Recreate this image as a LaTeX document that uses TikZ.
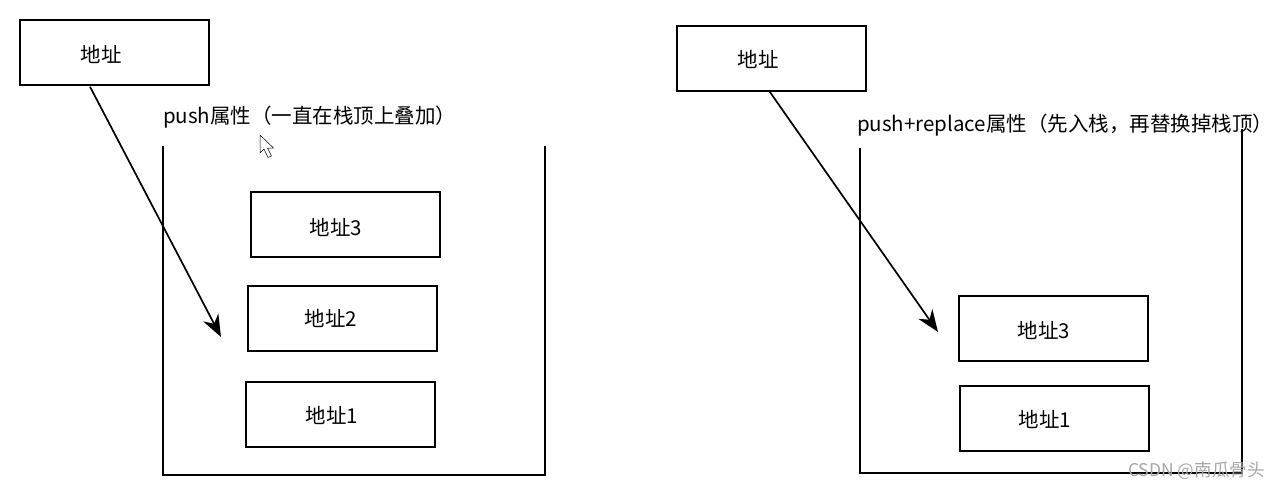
\documentclass[tikz,border=0pt]{standalone}
\usepackage{fontspec}
\setmainfont{Noto Sans CJK SC}
\usetikzlibrary{arrows.meta}
\tikzset{
  box/.style={draw=black, line width=1.7pt, minimum width=189pt, minimum height=65pt, inner sep=0pt, anchor=north west},
  btext/.style={font=\fontsize{20.5pt}{24pt}\selectfont, inner sep=0pt},
  ltext/.style={font=\fontsize{20.5pt}{24pt}\selectfont, inner sep=0pt, anchor=west},
  wall/.style={line width=1.7pt},
  push/.style={line width=1.7pt, -{Stealth[length=22pt,width=17pt,inset=7pt]}},
}
\begin{document}
\begin{tikzpicture}[x=1pt,y=-1pt]
\useasboundingbox (0,0) rectangle (1280,490);
% ---------- left ----------
\node[box, minimum width=189pt, minimum height=65pt] (la) at (19,19) {};
\node[btext] (lat) at (101,54) {地址};
\node[ltext] (llab) at (163,117) {push属性（一直在栈顶上叠加）};
\coordinate (lc1) at (163,146);
\coordinate (lc2) at (163,475);
\coordinate (lc3) at (545,475);
\coordinate (lc4) at (545,146);
\draw[wall] (lc1) -- (lc2) -- (lc3) -- (lc4);
\node[box] (l3) at (250,191) {};
\node[btext] (l3t) at (336,227) {地址3};
\node[box] (l2) at (247,285) {};
\node[btext] (l2t) at (331,318) {地址2};
\node[box] (l1) at (245,381) {};
\node[btext] (l1t) at (332,415) {地址1};
\coordinate (ls) at ([xshift=71pt,yshift=-1pt]la.south west);
\coordinate (le) at (221,337);
\draw[push] (ls) -- (le);
% cursor
\draw[black, line width=0.5pt, fill=white, line join=round]
  (260,135) -- (260,153) -- (264,149) -- (268,157.5) -- (271.5,156) -- (267.5,148) -- (273.5,148) -- cycle;
% ---------- right ----------
\node[box] (ra) at (676,25) {};
\node[btext] (rat) at (758,59) {地址};
\node[ltext] (rlab) at (857,125) {push+replace属性（先入栈，再替换掉栈顶）};
\coordinate (rc1) at (860,148);
\coordinate (rc2) at (860,473);
\coordinate (rc3) at (1242,473);
\coordinate (rc4) at (1242,129);
\draw[wall] (rc1) -- (rc2) -- (rc3) -- (rc4);
\node[box] (r3) at (958,295) {};
\node[btext] (r3t) at (1044,330) {地址3};
\node[box] (r1) at (959,385) {};
\node[btext] (r1t) at (1045,419) {地址1};
\coordinate (rs) at ([xshift=93pt,yshift=1pt]ra.south west);
\coordinate (re) at (938,332);
\draw[push] (rs) -- (re);
% watermark
\node[font=\fontsize{17.5pt}{20pt}\selectfont, text=gray!70, inner sep=0pt, anchor=west] (wm) at (1128,471) {CSDN @南瓜骨头};
\end{tikzpicture}
\end{document}
